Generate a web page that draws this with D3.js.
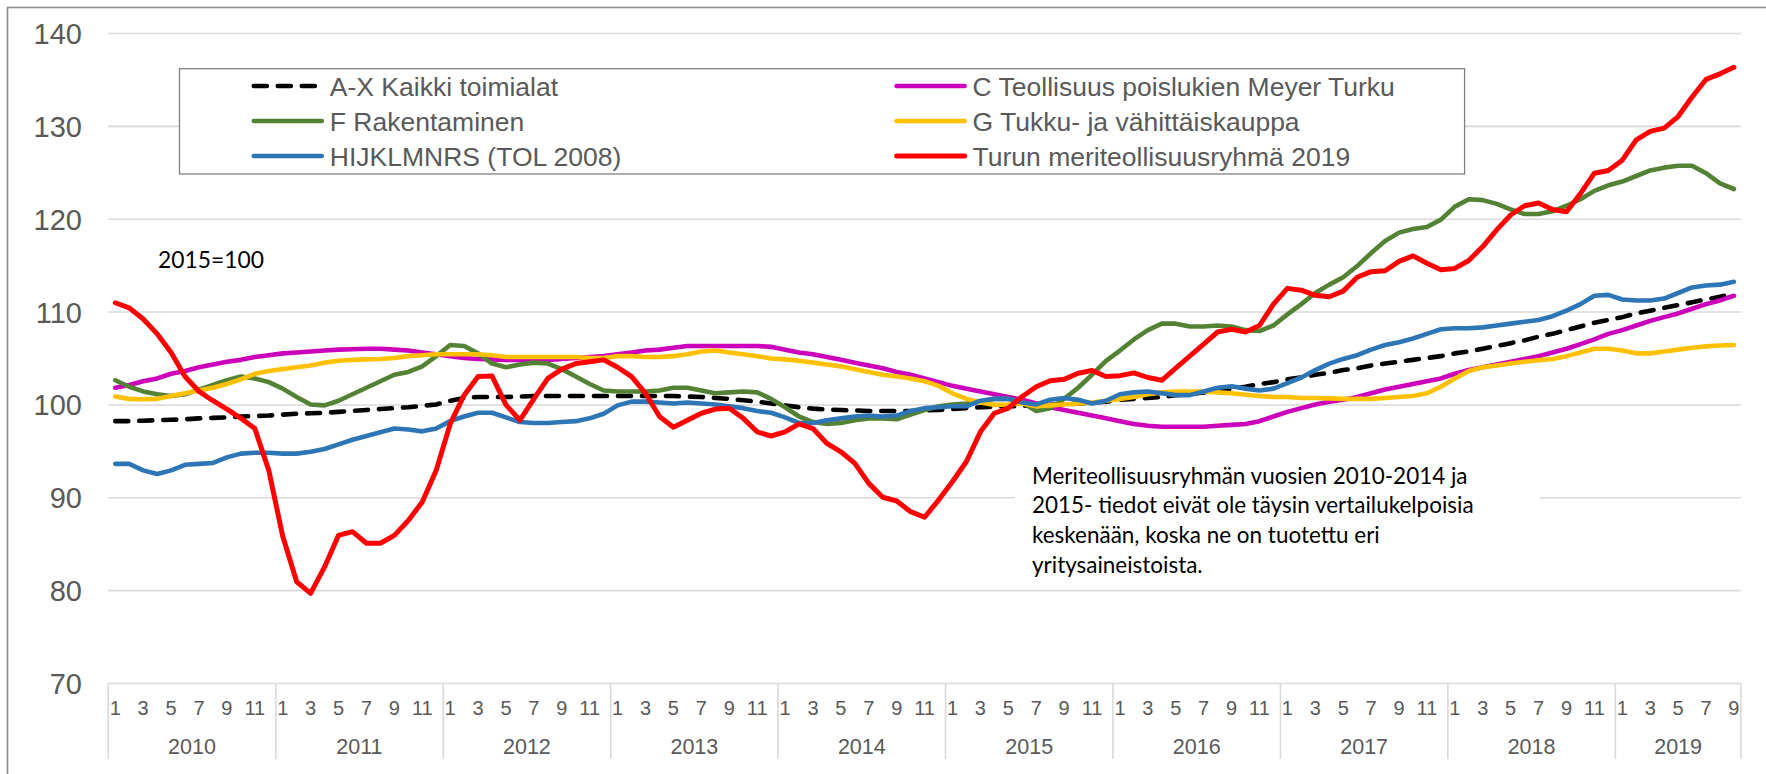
<!DOCTYPE html>
<html>
<head>
<meta charset="utf-8">
<script src="https://cdn.jsdelivr.net/npm/d3@7"></script>
<style>
  body { margin: 0; background: #fff; }
</style>
</head>
<body>
<svg id="chart" width="1766" height="774"></svg>
<script>
// ---- data (2015=100) ----
var years = [2010, 2011, 2012, 2013, 2014, 2015, 2016, 2017, 2018, 2019];
var monthsPerYear = [12, 12, 12, 12, 12, 12, 12, 12, 12, 9];
var yTicks = [70, 80, 90, 100, 110, 120, 130, 140];

var seriesNames = [
  "A-X Kaikki toimialat",
  "C Teollisuus poislukien Meyer Turku",
  "F Rakentaminen",
  "G Tukku- ja vähittäiskauppa",
  "HIJKLMNRS (TOL 2008)",
  "Turun meriteollisuusryhmä 2019"
];

var kaikki = [
  98.2, 98.2, 98.25, 98.3, 98.35, 98.4, 98.5, 98.55, 98.6, 98.7, 98.75, 98.8,
  98.9, 99.0, 99.05, 99.1, 99.2, 99.3, 99.4, 99.5, 99.6, 99.7, 99.85, 100.0,
  100.4, 100.7, 100.8, 100.8, 100.8, 100.85, 100.9, 100.9, 100.9, 100.9, 100.9, 100.9,
  100.9, 100.9, 100.9, 100.9, 100.9, 100.85, 100.8, 100.7, 100.6, 100.45, 100.3, 100.1,
  99.9, 99.7, 99.55, 99.45, 99.4, 99.35, 99.3, 99.3, 99.3, 99.3, 99.35, 99.4,
  99.5, 99.6, 99.7, 99.75, 99.8, 99.85, 99.9, 99.95, 100.0, 100.1, 100.2, 100.3,
  100.5, 100.6, 100.7, 100.8, 101.0, 101.1, 101.3, 101.5, 101.7, 101.9, 102.2, 102.4,
  102.7, 102.9, 103.2, 103.4, 103.7, 103.9, 104.2, 104.4, 104.6, 104.8, 105.0, 105.2,
  105.5, 105.7, 106.0, 106.3, 106.6, 106.9, 107.3, 107.6, 108.0, 108.4, 108.8, 109.1,
  109.4, 109.8, 110.1, 110.4, 110.7, 111.0, 111.3, 111.6, 111.9
];

var teollisuus = [
  101.8, 102.1, 102.5, 102.8, 103.3, 103.6, 104.0, 104.3, 104.6, 104.8, 105.1, 105.3,
  105.5, 105.6, 105.7, 105.8, 105.9, 105.95, 106.0, 106.0, 105.9, 105.8, 105.6, 105.4,
  105.2, 105.0, 104.9, 104.85, 104.8, 104.8, 104.8, 104.8, 104.9, 105.0, 105.1, 105.2,
  105.4, 105.6, 105.8, 105.9, 106.1, 106.3, 106.3, 106.3, 106.3, 106.3, 106.3, 106.2,
  105.9, 105.6, 105.4, 105.1, 104.8, 104.5, 104.2, 103.9, 103.5, 103.2, 102.8, 102.4,
  102.0, 101.7, 101.4, 101.1, 100.8, 100.5, 100.1, 99.7, 99.4, 99.1, 98.8, 98.5,
  98.2, 97.9, 97.7, 97.6, 97.6, 97.6, 97.6, 97.7, 97.8, 97.9, 98.2, 98.7,
  99.2, 99.6, 100.0, 100.3, 100.5, 100.8, 101.2, 101.6, 101.9, 102.2, 102.5, 102.8,
  103.3, 103.7, 104.0, 104.3, 104.6, 104.9, 105.2, 105.6, 106.0, 106.5, 107.0, 107.6,
  108.0, 108.5, 109.0, 109.4, 109.8, 110.3, 110.8, 111.2, 111.7
];

var rakentaminen = [
  102.6, 101.9, 101.4, 101.1, 100.9, 101.1, 101.6, 102.1, 102.6, 103.0, 102.8, 102.4,
  101.7, 100.8, 100.0, 99.9, 100.4, 101.1, 101.8, 102.5, 103.2, 103.5, 104.1, 105.2,
  106.4, 106.3, 105.5, 104.4, 104.0, 104.3, 104.5, 104.4, 103.8, 103.0, 102.2, 101.5,
  101.4, 101.4, 101.4, 101.5, 101.8, 101.8, 101.5, 101.2, 101.3, 101.4, 101.3, 100.6,
  99.7, 98.7, 98.1, 97.9, 98.0, 98.3, 98.5, 98.5, 98.4, 98.9, 99.4, 99.8,
  100.0, 100.1, 100.3, 100.6, 100.6, 100.2, 99.3, 99.6, 100.6, 101.8, 103.2, 104.7,
  105.8, 107.0, 108.0, 108.7, 108.7, 108.4, 108.4, 108.5, 108.4, 108.0, 107.9, 108.5,
  109.7, 110.8, 112.0, 112.9, 113.7, 114.9, 116.3, 117.6, 118.5, 118.9, 119.1, 119.9,
  121.3, 122.1, 122.0, 121.6, 121.0, 120.5, 120.5, 120.8, 121.4, 122.1, 123.0, 123.6,
  124.0, 124.6, 125.2, 125.5, 125.7, 125.7, 124.9, 123.8, 123.2
];

var kauppa = [
  100.85, 100.6, 100.55, 100.6, 100.9, 101.2, 101.5, 101.8, 102.2, 102.7, 103.3, 103.6,
  103.8, 104.0, 104.2, 104.5, 104.7, 104.8, 104.85, 104.9, 105.0, 105.2, 105.3, 105.4,
  105.4, 105.4, 105.4, 105.3, 105.1, 105.1, 105.1, 105.1, 105.1, 105.1, 105.0, 105.0,
  105.2, 105.2, 105.1, 105.1, 105.2, 105.4, 105.7, 105.8, 105.6, 105.4, 105.2, 104.95,
  104.85, 104.7, 104.5, 104.3, 104.1, 103.8, 103.5, 103.2, 103.0, 102.8, 102.5, 102.0,
  101.2, 100.6, 100.2, 99.95, 100.0, 100.1, 99.8, 99.9, 100.0, 100.1, 100.2, 100.4,
  100.6, 100.8, 101.1, 101.3, 101.4, 101.4, 101.4, 101.3, 101.2, 101.05, 100.9, 100.8,
  100.8, 100.7, 100.7, 100.65, 100.6, 100.6, 100.6, 100.7, 100.8, 100.9, 101.2, 101.9,
  102.8, 103.6, 104.0, 104.2, 104.4, 104.6, 104.75, 104.9, 105.2, 105.6, 106.0, 106.0,
  105.8, 105.5, 105.5, 105.7, 105.9, 106.1, 106.25, 106.35, 106.4
];

var palvelut = [
  93.6, 93.6, 92.9, 92.5, 92.9, 93.5, 93.6, 93.7, 94.3, 94.7, 94.8, 94.8,
  94.7, 94.7, 94.9, 95.2, 95.7, 96.2, 96.6, 97.0, 97.4, 97.3, 97.1, 97.4,
  98.2, 98.7, 99.1, 99.1, 98.6, 98.1, 98.0, 98.0, 98.1, 98.2, 98.5, 99.0,
  99.9, 100.3, 100.3, 100.2, 100.1, 100.2, 100.1, 100.0, 99.8, 99.6, 99.3, 99.1,
  98.6, 98.0, 98.0, 98.3, 98.5, 98.7, 98.8, 98.7, 98.8, 99.3, 99.6, 99.7,
  99.8, 99.8, 100.4, 100.6, 100.6, 100.2, 100.0, 100.5, 100.7, 100.5, 100.1, 100.4,
  101.1, 101.3, 101.4, 101.2, 101.0, 101.0, 101.4, 101.8, 101.95, 101.7, 101.5, 101.7,
  102.3, 102.9, 103.7, 104.4, 104.9, 105.3, 105.9, 106.4, 106.7, 107.1, 107.6, 108.1,
  108.2, 108.2, 108.3, 108.5, 108.7, 108.9, 109.1, 109.5, 110.1, 110.8, 111.7, 111.8,
  111.3, 111.2, 111.2, 111.4, 112.0, 112.6, 112.8, 112.9, 113.2
];

var meriteollisuus = [
  110.95, 110.4, 109.2, 107.6, 105.6, 103.0, 101.4, 100.4, 99.5, 98.5, 97.4, 92.9,
  85.8, 80.9, 79.65, 82.5, 85.9, 86.3, 85.05, 85.05, 85.9, 87.5, 89.5, 92.9,
  97.9, 101.0, 103.0, 103.05, 99.95, 98.3, 100.6, 102.8, 103.8, 104.4, 104.6, 104.8,
  104.0, 103.0, 101.2, 98.7, 97.55, 98.3, 99.05, 99.5, 99.6, 98.5, 97.05, 96.6,
  97.05, 97.9, 97.4, 95.8, 94.9, 93.65, 91.5, 90.0, 89.6, 88.45, 87.85, 89.7,
  91.7, 93.85, 97.05, 99.05, 99.6, 100.85, 101.9, 102.55, 102.7, 103.35, 103.65, 103.0,
  103.1, 103.4, 102.9, 102.6, 103.9, 105.2, 106.5, 107.8, 108.1, 107.8, 108.5, 110.8,
  112.5, 112.3, 111.75, 111.6, 112.2, 113.7, 114.3, 114.4, 115.4, 116.0, 115.2, 114.5,
  114.65, 115.5, 117.0, 118.8, 120.4, 121.4, 121.7, 121.0, 120.75, 122.7, 124.9, 125.2,
  126.3, 128.5, 129.4, 129.75, 131.0, 133.1, 135.0, 135.6, 136.3
];

var noteLines = [
  "Meriteollisuusryhmän vuosien 2010-2014 ja",
  "2015- tiedot eivät ole täysin vertailukelpoisia",
  "keskenään, koska ne on tuotettu eri",
  "yritysaineistoista."
];

// ---- layout ----
var width = 1766, height = 774;
var plotLeft = 108.3, plotRight = 1740.9, plotTop = 33, plotBottom = 683;
var axisFont = '"Liberation Sans", Arial, sans-serif';
var noteFont = 'Lato, "Open Sans", sans-serif';
var textGrey = '#595959';

// month list built from the year table
var months = [];
years.forEach(function(yr, k){
  for (var m = 1; m <= monthsPerYear[k]; m++) months.push({year: yr, month: m});
});

var series = [
  {name: seriesNames[0], values: kaikki, color: '#000000', dash: '13,11', w: 4.6},
  {name: seriesNames[1], values: teollisuus, color: '#cc00bb', dash: null, w: 4.6},
  {name: seriesNames[2], values: rakentaminen, color: '#548235', dash: null, w: 4.6},
  {name: seriesNames[3], values: kauppa, color: '#ffc000', dash: null, w: 4.6},
  {name: seriesNames[4], values: palvelut, color: '#2e75b6', dash: null, w: 4.6},
  {name: seriesNames[5], values: meriteollisuus, color: '#ff0000', dash: null, w: 5}
];

var svg = d3.select('#chart');
svg.append('rect').attr('width', width).attr('height', height).attr('fill', '#fff');

// outer chart frame (runs off right and bottom edges)
svg.append('rect')
  .attr('x', 7.5).attr('y', 7.5)
  .attr('width', width + 20).attr('height', height + 20)
  .attr('fill', 'none').attr('stroke', '#8c8c8c').attr('stroke-width', 1.6);

var x = d3.scaleBand().domain(d3.range(months.length)).range([plotLeft, plotRight]).padding(0);
var y = d3.scaleLinear().domain([70, 140]).range([plotBottom, plotTop]);
var bw = x.bandwidth();

// gridlines
var grid = svg.append('g')
  .attr('transform', 'translate(' + plotLeft + ',0)')
  .call(d3.axisLeft(y).tickValues(yTicks).tickSize(-(plotRight - plotLeft)).tickFormat(''));
grid.select('.domain').remove();
grid.selectAll('line').attr('stroke', '#d9d9d9').attr('stroke-width', 1.6);

// y labels
var yAxis = svg.append('g')
  .attr('transform', 'translate(82,0)')
  .call(d3.axisLeft(y).tickValues(yTicks).tickSize(0).tickPadding(0));
yAxis.select('.domain').remove();
yAxis.selectAll('text')
  .attr('font-family', axisFont).attr('font-size', 29)
  .attr('fill', textGrey).attr('dy', '0.36em');

// month labels
var xAxis = svg.append('g')
  .attr('transform', 'translate(0,' + plotBottom + ')')
  .call(d3.axisBottom(x).tickSize(0).tickFormat(function(i){
    var m = months[i].month;
    return m % 2 === 1 ? m : '';
  }));
xAxis.select('.domain').remove();
xAxis.selectAll('text')
  .attr('font-family', axisFont).attr('font-size', 20)
  .attr('fill', textGrey).attr('y', 32).attr('dy', 0);

// year groups
var yearSpans = [];
var start = 0;
years.forEach(function(yr, k){
  yearSpans.push({year: yr, x0: x(start), x1: x(start + monthsPerYear[k] - 1) + bw});
  start += monthsPerYear[k];
});

var sepX = yearSpans.map(function(d){ return d.x0; }).concat([plotRight]);
svg.append('g').selectAll('line')
  .data(sepX).enter().append('line')
  .attr('x1', function(d){ return d; }).attr('x2', function(d){ return d; })
  .attr('y1', plotBottom).attr('y2', 759)
  .attr('stroke', '#d9d9d9').attr('stroke-width', 1.6);

svg.append('g').selectAll('text')
  .data(yearSpans).enter().append('text')
  .attr('x', function(d){ return (d.x0 + d.x1) / 2; })
  .attr('y', 754)
  .attr('text-anchor', 'middle')
  .attr('font-family', axisFont).attr('font-size', 21.5)
  .attr('fill', textGrey)
  .text(function(d){ return d.year; });

// note box
svg.append('rect')
  .attr('x', 1015).attr('y', 455).attr('width', 525).attr('height', 128)
  .attr('fill', '#fff');

var note = svg.append('g').attr('class', 'note');
note.selectAll('text')
  .data(noteLines).enter().append('text')
  .attr('x', 1032)
  .attr('y', function(d, i){ return 483.5 + i * 29.8; })
  .attr('font-family', noteFont).attr('font-size', 24)
  .attr('fill', '#000')
  .text(function(d){ return d; });
// scale the font so the four lines together match the reference widths
var totalLen = d3.sum(note.selectAll('text').nodes(), function(n){ return n.getComputedTextLength(); });
note.selectAll('text').attr('font-size', 24 * 1396 / totalLen);

var base = svg.append('text')
  .attr('x', 158).attr('y', 268)
  .attr('font-family', noteFont).attr('font-size', 26)
  .attr('fill', '#000')
  .text('2015=100');
base.attr('font-size', 26 * 106 / base.node().getComputedTextLength());

// lines
var line = d3.line()
  .x(function(d, i){ return x(i) + bw / 2; })
  .y(function(d){ return y(d); });

svg.append('g').attr('class', 'series')
  .selectAll('path')
  .data(series).enter().append('path')
    .attr('d', function(d){ return line(d.values); })
    .attr('fill', 'none')
    .attr('stroke', function(d){ return d.color; })
    .attr('stroke-width', function(d){ return d.w; })
    .attr('stroke-linejoin', 'round')
    .attr('stroke-linecap', 'round')
    .attr('stroke-dasharray', function(d){ return d.dash; });

// legend
var legendBox = svg.append('g').attr('class', 'legend');
legendBox.append('rect')
  .attr('x', 179.5).attr('y', 68.7)
  .attr('width', 1464.6 - 179.5).attr('height', 174 - 68.7)
  .attr('fill', '#fff').attr('stroke', '#808080').attr('stroke-width', 1.3);

var legendCols = [251.8, 894.6];
var legendRows = [86, 121, 156];
var item = legendBox.selectAll('.item')
  .data(series).enter().append('g')
  .attr('class', 'item')
  .attr('transform', function(d, i){
    return 'translate(' + legendCols[i % 2] + ',' + legendRows[Math.floor(i / 2)] + ')';
  });

item.append('line')
  .attr('x1', 2).attr('x2', 70)
  .attr('stroke', function(d){ return d.color; })
  .attr('stroke-width', function(d){ return d.w; })
  .attr('stroke-linecap', 'round')
  .attr('stroke-dasharray', function(d){ return d.dash; });

item.append('text')
  .attr('x', 78).attr('y', 9.6)
  .attr('font-family', axisFont).attr('font-size', 26.5)
  .attr('fill', textGrey)
  .text(function(d){ return d.name; });
</script>
</body>
</html>
